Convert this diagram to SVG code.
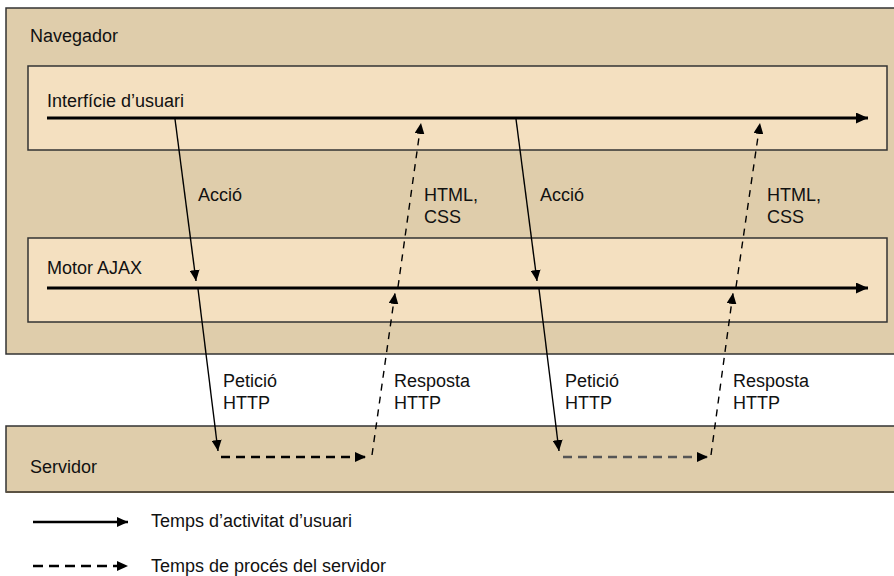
<svg xmlns="http://www.w3.org/2000/svg" width="894" height="576" viewBox="0 0 894 576">
  <defs>
    <style>
      text { font-family: "Liberation Sans", Arial, sans-serif; font-size: 18px; fill: #111; }
      .outer { fill: #dfcdab; stroke: #333; stroke-width: 1.5; }
      .inner { fill: #f4e0c0; stroke: #333; stroke-width: 1.5; }
      .timeline { stroke: #000; stroke-width: 3; fill: none; }
      .solid { stroke: #000; stroke-width: 1.4; fill: none; }
      .dashed { stroke: #000; stroke-width: 1.4; fill: none; stroke-dasharray: 7 6; }
      .srv { stroke: #000; stroke-width: 2.6; fill: none; stroke-dasharray: 9 6; }
      .srv2 { stroke: #555; stroke-width: 2.6; fill: none; stroke-dasharray: 9 6; }
    </style>
    <marker id="ah" markerUnits="userSpaceOnUse" markerWidth="11" markerHeight="10" refX="11" refY="5" orient="auto">
      <path d="M0,0 L11,5 L0,10 z" fill="#000"/>
    </marker>
    <marker id="ahBig" markerUnits="userSpaceOnUse" markerWidth="12" markerHeight="11" refX="12" refY="5.5" orient="auto">
      <path d="M0,0 L12,5.5 L0,11 z" fill="#000"/>
    </marker>
  </defs>

  <g id="navegador">
    <rect class="outer" x="6" y="8" width="900" height="346"/>
    <text x="30" y="42">Navegador</text>
  </g>

  <g id="interficie">
    <rect class="inner" x="28" y="66" width="859" height="84"/>
    <text x="47" y="107">Interfície d’usuari</text>
    <line class="timeline" x1="47" y1="118" x2="868" y2="118" marker-end="url(#ahBig)"/>
  </g>

  <g id="motor">
    <rect class="inner" x="28" y="238" width="859" height="84"/>
    <text x="47" y="274">Motor AJAX</text>
    <line class="timeline" x1="47" y1="288" x2="868" y2="288" marker-end="url(#ahBig)"/>
  </g>

  <g id="servidor">
    <rect class="outer" x="6" y="426" width="900" height="66"/>
    <line x1="6" y1="492" x2="894" y2="492" stroke="#5b5243" stroke-width="2"/>
    <text x="30" y="473">Servidor</text>
  </g>

  <g id="connectors">
    <line class="solid" x1="175" y1="119" x2="196" y2="281" marker-end="url(#ah)"/>
    <line class="solid" x1="198" y1="289" x2="218" y2="451" marker-end="url(#ah)"/>
    <line class="srv" x1="221" y1="457" x2="366" y2="457" marker-end="url(#ah)"/>
    <line class="dashed" x1="372" y1="455" x2="395" y2="293" marker-end="url(#ah)"/>
    <line class="dashed" x1="398" y1="287" x2="421" y2="123" marker-end="url(#ah)"/>

    <line class="solid" x1="516" y1="119" x2="537" y2="281" marker-end="url(#ah)"/>
    <line class="solid" x1="539" y1="289" x2="559" y2="451" marker-end="url(#ah)"/>
    <line class="srv2" x1="563" y1="457" x2="708" y2="457" marker-end="url(#ah)"/>
    <line class="dashed" x1="711" y1="455" x2="733" y2="293" marker-end="url(#ah)"/>
    <line class="dashed" x1="736" y1="287" x2="760" y2="123" marker-end="url(#ah)"/>
  </g>

  <g id="labels">
    <text x="198" y="201">Acció</text>
    <text x="424" y="201">HTML,</text>
    <text x="424" y="223">CSS</text>
    <text x="540" y="201">Acció</text>
    <text x="767" y="201">HTML,</text>
    <text x="767" y="223">CSS</text>
    <text x="223" y="387">Petició</text>
    <text x="223" y="409">HTTP</text>
    <text x="394" y="387">Resposta</text>
    <text x="394" y="409">HTTP</text>
    <text x="565" y="387">Petició</text>
    <text x="565" y="409">HTTP</text>
    <text x="733" y="387">Resposta</text>
    <text x="733" y="409">HTTP</text>
  </g>

  <g id="legend">
    <line class="timeline" x1="33" y1="522" x2="128" y2="522" marker-end="url(#ah)" style="stroke-width:2.6"/>
    <text x="151" y="527">Temps d’activitat d’usuari</text>
    <line class="srv" x1="33" y1="566" x2="128" y2="566" marker-end="url(#ah)" style="stroke-dasharray:10 6"/>
    <text x="151" y="572">Temps de procés del servidor</text>
  </g>
</svg>
